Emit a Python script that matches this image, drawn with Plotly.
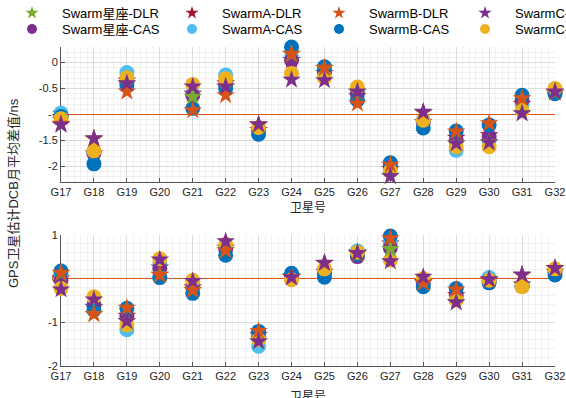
import plotly.graph_objects as go

# ---------------- data ----------------
satellites = ["G17", "G18", "G19", "G20", "G21", "G22", "G23", "G24",
              "G25", "G26", "G27", "G28", "G29", "G30", "G31", "G32"]

series_names = ["Swarm星座-DLR", "SwarmA-DLR", "SwarmB-DLR", "SwarmC-DLR",
                "Swarm星座-CAS", "SwarmA-CAS", "SwarmB-CAS", "SwarmC-CAS"]

# top panel (reference line at -1)
top_const_dlr = [-1.19, -1.47, -0.41, None, -0.66, -0.47, -1.20, 0.16, -0.11, -0.57, -2.18, -0.96, -1.55, -1.53, -0.97, -0.57]
top_a_dlr     = [-1.05, -1.75, -0.35, None, -0.60, -0.40, -1.30, 0.05, -0.20, -0.65, -2.05, -1.15, -1.45, -1.40, -0.80, -0.58]
top_b_dlr     = [-1.18, -1.47, -0.56, None, -0.92, -0.63, -1.20, 0.17, -0.10, -0.79, -1.97, -0.96, -1.33, -1.17, -0.69, -0.57]
top_c_dlr     = [-1.20, -1.46, -0.40, None, -0.46, -0.46, -1.19, -0.33, -0.34, -0.56, -2.19, -0.95, -1.56, -1.54, -0.98, -0.56]
top_const_cas = [-1.06, -1.75, -0.38, None, -0.63, -0.42, -1.30, 0.04, -0.18, -0.60, -2.00, -1.15, -1.50, -1.43, -0.72, -0.58]
top_a_cas     = [-0.97, -1.72, -0.19, None, -0.60, -0.24, -1.30, 0.10, -0.15, -0.55, -2.00, -1.12, -1.69, -1.50, -0.80, -0.55]
top_b_cas     = [-1.04, -1.95, -0.44, None, -0.88, -0.50, -1.38, 0.30, -0.08, -0.72, -1.93, -1.26, -1.32, -1.20, -0.63, -0.60]
top_c_cas     = [-1.08, -1.70, -0.29, None, -0.42, -0.31, -1.25, -0.21, -0.29, -0.47, -2.09, -1.11, -1.62, -1.62, -0.92, -0.50]

# bottom panel (reference line at 0)
bot_const_dlr = [0.12, -0.81, -0.97, 0.09, -0.26, 0.65, -1.43, 0.03, 0.35, 0.57, 0.67, -0.10, -0.54, -0.03, 0.08, 0.23]
bot_a_dlr     = [0.00, -0.65, -0.85, 0.25, -0.20, 0.70, -1.30, 0.05, 0.15, 0.60, 0.80, -0.08, -0.38, -0.05, -0.14, 0.15]
bot_b_dlr     = [0.13, -0.82, -0.67, 0.08, -0.27, 0.64, -1.20, 0.03, 0.35, 0.57, 0.92, -0.10, -0.25, -0.03, 0.08, 0.23]
bot_c_dlr     = [-0.25, -0.48, -0.98, 0.43, -0.06, 0.85, -1.44, 0.02, 0.36, 0.58, 0.39, 0.04, -0.55, -0.02, 0.09, 0.24]
bot_const_cas = [-0.04, -0.62, -0.87, 0.23, -0.20, 0.68, -1.32, 0.05, 0.12, 0.50, 0.70, -0.08, -0.38, -0.05, -0.17, 0.15]
bot_a_cas     = [0.10, -0.60, -1.17, 0.32, -0.15, 0.70, -1.55, 0.08, 0.15, 0.63, 0.80, -0.10, -0.45, 0.02, -0.17, 0.17]
bot_b_cas     = [0.17, -0.72, -0.68, 0.02, -0.34, 0.53, -1.21, 0.12, 0.03, 0.55, 0.97, -0.19, -0.23, -0.10, -0.18, 0.08]
bot_c_cas     = [-0.23, -0.42, -1.06, 0.45, -0.04, 0.78, -1.40, -0.03, 0.22, 0.60, 0.42, 0.00, -0.49, -0.04, -0.19, 0.22]

ref_top = -1
ref_bottom = 0

top_yticks = [0, -0.5, -1, -1.5, -2]
bot_yticks = [1, 0, -1, -2]

# ---------------- styling ----------------
FONT = "Liberation Sans, Arial, Noto Sans CJK SC, sans-serif"
W, H = 566, 398
ML, MR, MT, MB = 61, 11, 47, 32
PW, PH = W - ML - MR, H - MT - MB

colors = {
    "Swarm星座-DLR": "#77AC30", "SwarmA-DLR": "#A2142F",
    "SwarmB-DLR": "#D95319", "SwarmC-DLR": "#7E2F8E",
    "Swarm星座-CAS": "#7E2F8E", "SwarmA-CAS": "#4DBEEE",
    "SwarmB-CAS": "#0072BD", "SwarmC-CAS": "#EDB120",
}

top_data = {
    "Swarm星座-DLR": top_const_dlr, "SwarmA-DLR": top_a_dlr,
    "SwarmB-DLR": top_b_dlr, "SwarmC-DLR": top_c_dlr,
    "Swarm星座-CAS": top_const_cas, "SwarmA-CAS": top_a_cas,
    "SwarmB-CAS": top_b_cas, "SwarmC-CAS": top_c_cas,
}
bot_data = {
    "Swarm星座-DLR": bot_const_dlr, "SwarmA-DLR": bot_a_dlr,
    "SwarmB-DLR": bot_b_dlr, "SwarmC-DLR": bot_c_dlr,
    "Swarm星座-CAS": bot_const_cas, "SwarmA-CAS": bot_a_cas,
    "SwarmB-CAS": bot_b_cas, "SwarmC-CAS": bot_c_cas,
}

# drawing order (bottom -> top)
draw_order = ["SwarmA-DLR", "SwarmA-CAS", "Swarm星座-CAS", "SwarmB-CAS", "SwarmC-CAS",
              "Swarm星座-DLR", "SwarmB-DLR", "SwarmC-DLR"]

# legend slots: (left px, center y px)
col_left = [2, 162, 309, 455]
row_y = [13, 29]
legend_slot = {}
for i, nm in enumerate(series_names):
    legend_slot[nm] = ("legend" if i == 0 else "legend%d" % (i + 1),
                       col_left[i % 4], row_y[i // 4])

x_idx = list(range(len(satellites)))

fig = go.Figure()

for yref, ref in (("y", ref_top), ("y2", ref_bottom)):
    fig.add_trace(go.Scatter(
        x=[x_idx[0], x_idx[-1]], y=[ref, ref], mode="lines",
        line=dict(color="#D95319", width=1), showlegend=False,
        hoverinfo="skip", xaxis="x" if yref == "y" else "x2", yaxis=yref,
        cliponaxis=False))

for panel, data, xa, ya in (("top", top_data, "x", "y"), ("bot", bot_data, "x2", "y2")):
    for nm in draw_order:
        is_star = nm.endswith("DLR")
        fig.add_trace(go.Scatter(
            x=x_idx, y=data[nm], mode="markers", name=nm,
            marker=dict(symbol="star" if is_star else "circle",
                        size=14 if is_star else 15,
                        color=colors[nm], line=dict(width=0)),
            showlegend=False, xaxis=xa, yaxis=ya, cliponaxis=False))

# legend entries (smaller symbols, as in the reference legend)
for nm in series_names:
    is_star = nm.endswith("DLR")
    leg, _, _ = legend_slot[nm]
    fig.add_trace(go.Scatter(
        x=[None], y=[None], mode="markers", name=nm,
        marker=dict(symbol="star" if is_star else "circle",
                    size=10, color=colors[nm], line=dict(width=0)),
        showlegend=True, legend=leg, xaxis="x", yaxis="y"))

def xaxis_cfg(anchor):
    return dict(
        domain=[0, 1], anchor=anchor, range=[x_idx[0], x_idx[-1]],
        tickmode="array", tickvals=x_idx, ticktext=satellites,
        ticks="inside", ticklen=4, tickcolor="#555", tickwidth=1,
        showline=True, linecolor="#555", linewidth=1, mirror=False,
        showgrid=True, gridcolor="#d6d6d6", gridwidth=0.8,
        minor=dict(tickmode="linear", tick0=0, dtick=0.2, showgrid=True,
                   gridcolor="#e8e8e8", gridwidth=0.6, ticks=""),
        zeroline=False, tickfont=dict(size=11, color="#262626", family=FONT),
        layer="below traces", fixedrange=True)

def yaxis_cfg(anchor, dom, rng, ticks, minor_dt):
    return dict(
        domain=dom, anchor=anchor, range=rng,
        tickmode="array", tickvals=ticks, ticktext=[("%g" % t) for t in ticks],
        ticks="inside", ticklen=4, tickcolor="#555", tickwidth=1,
        showline=True, linecolor="#555", linewidth=1, mirror=False,
        showgrid=True, gridcolor="#d6d6d6", gridwidth=0.8,
        minor=dict(tickmode="linear", tick0=0, dtick=minor_dt, showgrid=True,
                   gridcolor="#e8e8e8", gridwidth=0.6, ticks=""),
        zeroline=False, tickfont=dict(size=11, color="#262626", family=FONT),
        layer="below traces", fixedrange=True)

top_dom = [(H - MB - 182) / PH, 1.0]
bot_dom = [0.0, (H - MB - 234.7) / PH]

layout = dict(
    width=W, height=H,
    margin=dict(l=ML, r=MR, t=MT, b=MB, autoexpand=False),
    paper_bgcolor="white", plot_bgcolor="white",
    font=dict(family=FONT, size=12, color="#262626"),
    xaxis=xaxis_cfg("y"),
    yaxis=yaxis_cfg("x", top_dom, [-2.3, 0.3], top_yticks, 0.1),
    xaxis2=xaxis_cfg("y2"),
    yaxis2=yaxis_cfg("x2", bot_dom, [-2, 1], bot_yticks, 0.2),
    annotations=[
        dict(text="卫星号", xref="paper", yref="paper", x=0.5,
             y=(H - MB - 208) / PH, xanchor="center", yanchor="middle",
             showarrow=False, font=dict(size=12, color="#262626")),
        dict(text="卫星号", xref="paper", yref="paper", x=0.5,
             y=(H - MB - 397) / PH, xanchor="center", yanchor="middle",
             showarrow=False, font=dict(size=12, color="#262626")),
        dict(text="GPS卫星估计DCB月平均差值/ns", xref="paper", yref="paper",
             x=(14 - ML) / PW, y=(H - MB - 193) / PH, xanchor="center",
             yanchor="middle", textangle=-90, showarrow=False,
             font=dict(size=13, color="#262626")),
    ],
)

for nm in series_names:
    leg, lx, ly = legend_slot[nm]
    layout[leg] = dict(
        x=(lx - ML) / PW, y=(H - MB - ly) / PH, xanchor="left", yanchor="middle",
        orientation="h", bgcolor="rgba(0,0,0,0)", borderwidth=0,
        itemwidth=50, itemsizing="trace",
        font=dict(size=13, family=FONT, color="#000000"))

fig.update_layout(**layout)
fig.write_html("out.html",
               config={"displayModeBar": False, "staticPlot": True},
               post_script="document.body.style.margin='0';document.body.style.overflow='hidden';")
